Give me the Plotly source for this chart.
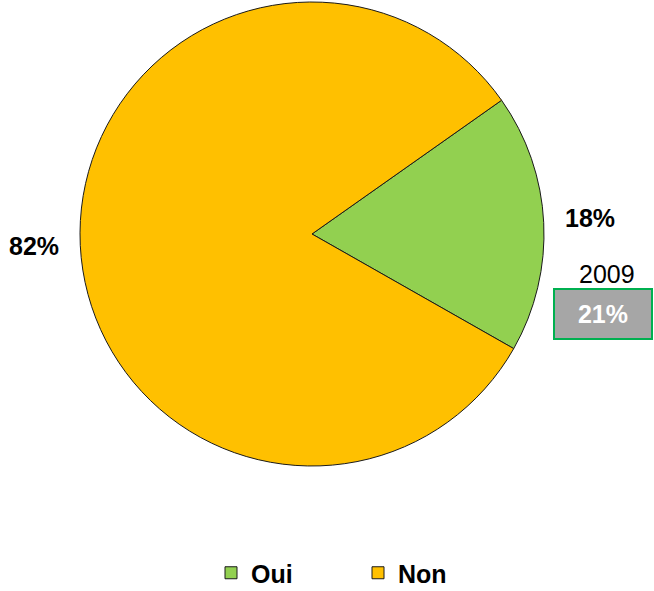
import math
import plotly.graph_objects as go

labels = ["Oui", "Non"]
values = [18, 82]
colors = ["#92D050", "#FFC000"]
compare_year = "2009"
compare_value = 21

W, H = 654, 591
# pie placement (pixels)
pcx, pcy, pr = 312, 234, 232
rotation = 54.8

fig = go.Figure(go.Pie(
    labels=labels, values=values, sort=False, direction="clockwise",
    rotation=rotation, textinfo="none", hoverinfo="label+percent",
    marker=dict(colors=colors, line=dict(color="#1a1a1a", width=1)),
    domain=dict(x=[(pcx - pr) / W, (pcx + pr) / W],
                y=[1 - (pcy + pr) / H, 1 - (pcy - pr) / H]),
))

FONT = "Liberation Sans, Arial"
FS = 25

# percentage labels placed at slice mid-angles
total = sum(values)
start = rotation
anns = []
for v in values:
    span = 360 * v / total
    mid = start + span / 2
    start += span
    ang = math.radians(90 - mid)
    lx = pcx + 1.2 * pr * math.cos(ang)
    ly = pcy - 1.2 * pr * math.sin(ang)
    anns.append(dict(x=lx / W, y=1 - (ly - 2) / H, xref="paper", yref="paper",
                     xanchor="center", yanchor="middle",
                     text=f"<b>{round(100 * v / total)}%</b>", showarrow=False,
                     font=dict(family=FONT, size=FS, color="#000")))

anns.append(dict(x=607 / W, y=1 - 274 / H, xref="paper", yref="paper",
                 xanchor="center", yanchor="middle",
                 text=compare_year, showarrow=False,
                 font=dict(family=FONT, size=FS, color="#000")))
anns.append(dict(x=603 / W, y=1 - 314 / H, xref="paper", yref="paper",
                 xanchor="center", yanchor="middle",
                 text=f"<b>{compare_value}%</b>", showarrow=False,
                 width=94, height=46, bgcolor="#A6A6A6", bordercolor="#00B050",
                 borderwidth=2, borderpad=1,
                 font=dict(family=FONT, size=FS, color="#FFFFFF")))

fig.update_layout(
    width=W, height=H, margin=dict(l=0, r=0, t=0, b=0, autoexpand=False),
    paper_bgcolor="white", plot_bgcolor="white",
    showlegend=True,
    legend=dict(orientation="h", x=211 / W, xanchor="left", y=1 - 573 / H, yanchor="middle",
                font=dict(family=FONT, size=FS, color="#000", weight="bold"),
                entrywidth=102, entrywidthmode="pixels", itemclick=False,
                itemdoubleclick=False),
    annotations=anns,
)
fig.write_html("out.html", config={"displayModeBar": False},
               post_script="document.body.style.margin='0';")
